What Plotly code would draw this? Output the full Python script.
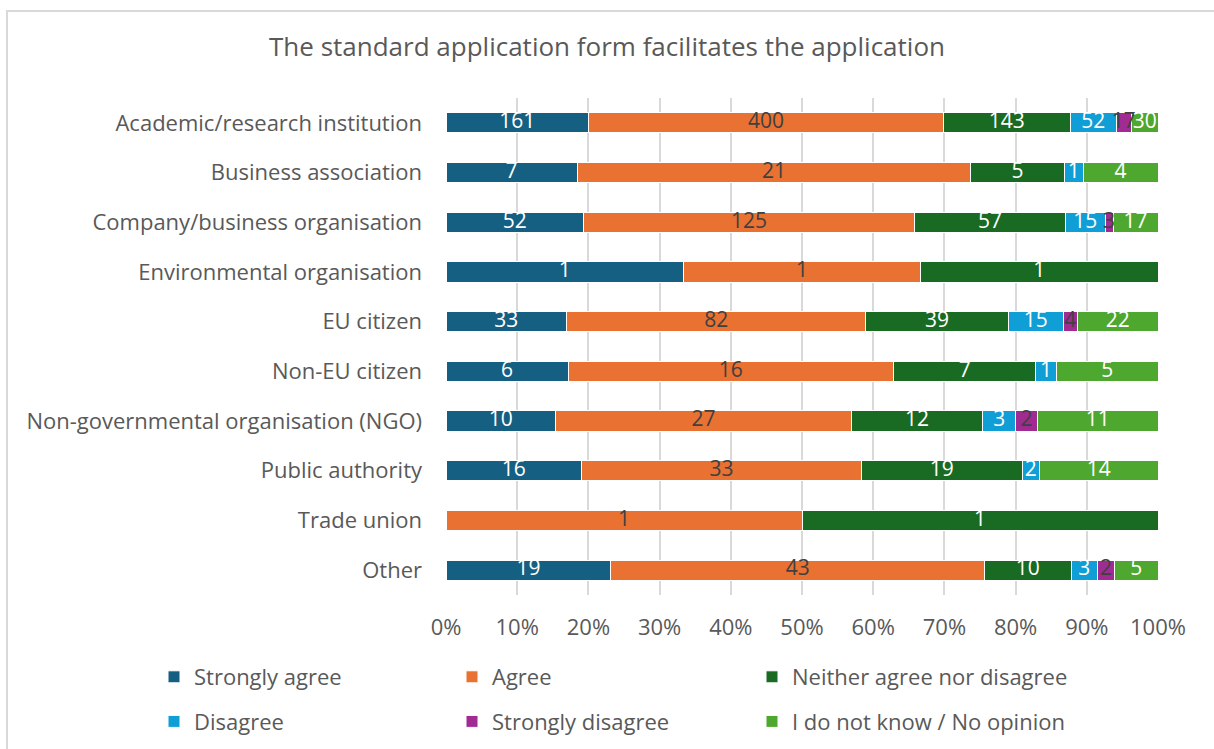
import plotly.graph_objects as go

categories = [
    "Academic/research institution",
    "Business association",
    "Company/business organisation",
    "Environmental organisation",
    "EU citizen",
    "Non-EU citizen",
    "Non-governmental organisation (NGO)",
    "Public authority",
    "Trade union",
    "Other",
]

strongly_agree = [161, 7, 52, 1, 33, 6, 10, 16, 0, 19]
agree = [400, 21, 125, 1, 82, 16, 27, 33, 1, 43]
neither = [143, 5, 57, 1, 39, 7, 12, 19, 1, 10]
disagree = [52, 1, 15, 0, 15, 1, 3, 2, 0, 3]
strongly_disagree = [17, 0, 3, 0, 4, 0, 2, 0, 0, 2]
no_opinion = [30, 4, 17, 0, 22, 5, 11, 14, 0, 5]

series_names = ["Strongly agree", "Agree", "Neither agree nor disagree",
                "Disagree", "Strongly disagree", "I do not know / No opinion"]
series_values = [strongly_agree, agree, neither, disagree, strongly_disagree, no_opinion]
series_colors = ["#156082", "#E97132", "#196B24", "#0F9ED5", "#A02B93", "#4EA72E"]
text_colors = ["#FFFFFF", "#404040", "#FFFFFF", "#FFFFFF", "#404040", "#FFFFFF"]
legend_ids = ["legend", "legend2", "legend3", "legend", "legend2", "legend3"]

tick_vals = [0, 10, 20, 30, 40, 50, 60, 70, 80, 90, 100]
tick_text = [f"{v}%" for v in tick_vals]

FONT = "Open Sans, Roboto, Arial"
FS = 22
FS_BAR = 21

fig = go.Figure()

# stacked bars (normalised to percent)
for k, (name, vals, col, lg) in enumerate(zip(series_names, series_values, series_colors, legend_ids)):
    fig.add_trace(go.Bar(
        y=categories, x=vals, name=name, orientation="h",
        marker=dict(color=col, line=dict(color="white", width=1)),
        legend=lg, legendgroup=f"g{k}",
        hoverinfo="x+y+name",
    ))

# data labels drawn above all bars, at segment centres derived from the data
totals = [sum(col) for col in zip(*series_values)]
cum = [0] * len(categories)
for vals, tcol in zip(series_values, text_colors):
    mids, labels = [], []
    for j, v in enumerate(vals):
        mids.append((cum[j] + v / 2) / totals[j] * 100)
        labels.append(str(v) if v > 0 else "")
        cum[j] += v
    fig.add_trace(go.Scatter(
        x=mids, y=categories, mode="text", text=labels,
        textposition="middle center",
        textfont=dict(color=tcol, size=FS_BAR, family=FONT),
        showlegend=False, hoverinfo="skip", cliponaxis=False,
    ))

W, H = 1214, 749
L, R, T, B = 446, 56, 98, 154
pw, ph = W - L - R, H - T - B

def px_x(p):
    return (p - L) / pw

def px_y(p):
    return (H - B - p) / ph

legend_common = dict(orientation="v", xanchor="left", yanchor="top",
                     y=px_y(656), tracegroupgap=13,
                     font=dict(size=FS, color="#595959", family=FONT),
                     itemwidth=30, bgcolor="rgba(0,0,0,0)")

fig.update_layout(
    width=W, height=H,
    barmode="stack", barnorm="percent", bargap=0.595,
    margin=dict(l=L, r=R, t=T, b=B, autoexpand=False),
    paper_bgcolor="white", plot_bgcolor="white",
    font=dict(family=FONT, color="#595959", size=FS),
    title=dict(text="The standard application form facilitates the application",
               x=0.5, xanchor="center", y=1 - 47 / H, yanchor="middle",
               font=dict(size=26, color="#595959", family=FONT)),
    xaxis=dict(range=[0, 100], tickvals=tick_vals, ticktext=tick_text,
               showgrid=True, gridcolor="#D9D9D9", gridwidth=2,
               zeroline=False, showline=False, ticks="",
               tickfont=dict(size=FS, color="#595959"), ticklabelstandoff=17),
    yaxis=dict(categoryorder="array", categoryarray=categories, autorange="reversed",
               showgrid=False, ticks="", showline=False,
               tickfont=dict(size=FS, color="#595959"), ticklabelstandoff=23),
    legend=dict(legend_common, x=px_x(154)),
    legend2=dict(legend_common, x=px_x(452)),
    legend3=dict(legend_common, x=px_x(752)),
    showlegend=True,
)

fig.add_shape(type="rect", xref="paper", yref="paper",
              x0=px_x(7), x1=px_x(1240), y0=px_y(780), y1=px_y(11),
              line=dict(color="#D9D9D9", width=2), fillcolor="rgba(0,0,0,0)", layer="below")

fig.write_html("out.html", config={"displayModeBar": False},
               post_script="document.body.style.margin='0';document.body.style.overflow='hidden';")
